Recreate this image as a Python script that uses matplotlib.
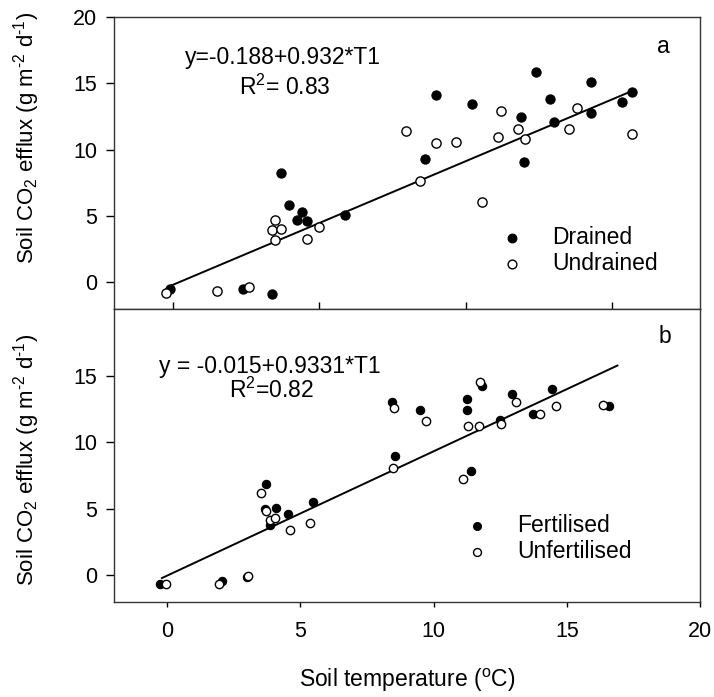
import matplotlib
matplotlib.use("Agg")
import matplotlib.pyplot as plt
import numpy as np

plt.rcParams['font.family'] = ['Liberation Sans', 'DejaVu Sans']
plt.rcParams['mathtext.fontset'] = 'custom'
plt.rcParams['mathtext.rm'] = 'Liberation Sans'
plt.rcParams['mathtext.it'] = 'Liberation Sans:italic'

# ---- Panel a: drained / undrained ----
drained_x = [-0.09, 2.40, 3.39, 3.71, 3.98, 4.42, 4.25, 4.57, 5.87,
             8.98, 10.22, 12.39, 14.27, 12.89, 11.88, 13.03, 14.27, 15.35, 15.67, 8.60, 11.98]
drained_y = [-0.53, -0.48, -0.85, 8.24, 5.81, 5.31, 4.71, 4.61, 5.11,
             14.14, 13.47, 15.87, 15.09, 13.79, 12.49, 12.09, 12.74, 13.59, 14.32, 9.31, 9.04]
undrained_x = [-0.21, 1.53, 2.60, 3.48, 3.39, 3.71, 3.48, 4.60, 4.98, 7.97,
               9.00, 9.68, 11.20, 11.09, 11.78, 12.03, 13.79, 13.52, 15.67, 8.43, 10.55]
undrained_y = [-0.83, -0.65, -0.38, 4.71, 3.93, 4.03, 3.20, 3.28, 4.16, 11.38,
               10.54, 10.61, 12.89, 10.99, 11.56, 10.81, 13.14, 11.56, 11.19, 7.63, 6.03]
fit_a = (-0.188, 0.932)
fit_a_range = [-0.1, 15.6]

# ---- Panel b: fertilised / unfertilised ----
fert_x = [-0.26, 2.04, 3.00, 3.69, 3.66, 4.09, 3.86, 4.55, 5.48, 8.45, 8.54,
          9.50, 11.26, 11.26, 11.81, 12.94, 12.48, 13.73, 14.46, 16.59, 11.40]
fert_y = [-0.68, -0.43, -0.10, 6.88, 4.95, 5.03, 3.80, 4.60, 5.48, 12.98, 8.95,
          12.45, 13.25, 12.38, 14.20, 13.65, 11.65, 12.15, 14.03, 12.73, 7.83]
unfert_x = [-0.03, 1.94, 3.03, 3.51, 3.69, 3.86, 4.06, 4.60, 5.34, 8.51, 8.49,
            9.71, 11.75, 11.30, 11.69, 13.10, 12.53, 14.00, 14.61, 16.35, 11.09]
unfert_y = [-0.65, -0.63, -0.03, 6.15, 4.83, 4.15, 4.33, 3.38, 3.93, 12.58, 8.03,
            11.58, 14.53, 11.18, 11.18, 12.98, 11.33, 12.13, 12.73, 12.78, 7.25]
fit_b = (-0.015, 0.9331)
fit_b_range = [-0.2, 16.9]

yticks_a = [0, 5, 10, 15, 20]
yticks_b = [0, 5, 10, 15]
xticks_a = [0, 5, 10, 15]
xticks_b = [0, 5, 10, 15, 20]

W, H = 714, 697
fig = plt.figure(figsize=(W / 100, H / 100), dpi=100)
left, right = 114 / W, 700 / W
ax_a = fig.add_axes([left, 1 - 309 / H, right - left, (309 - 17) / H])
ax_b = fig.add_axes([left, 1 - 602 / H, right - left, (602 - 309) / H])

fs_tick = 15.5
fs_txt = 16.5
for ax in (ax_a, ax_b):
    for sp in ax.spines.values():
        sp.set_linewidth(1.0)
        sp.set_color('#333333')

# Panel a
ax_a.scatter(drained_x, drained_y, s=44, c='black', edgecolors='black', linewidths=0.8,
             label='Drained', zorder=3)
ax_a.scatter(undrained_x, undrained_y, s=44, facecolors='white', edgecolors='black',
             linewidths=1.0, label='Undrained', zorder=3)
xa = np.array(fit_a_range)
ax_a.plot(xa, fit_a[0] + fit_a[1] * xa, color='black', lw=1.4, zorder=2)
ax_a.set_xlim(-2, 18)
ax_a.set_ylim(-2, 20)
ax_a.set_yticks(yticks_a)
ax_a.set_xticks(xticks_a)
ax_a.tick_params(axis='x', direction='in', length=5, labelbottom=False, width=1)
ax_a.tick_params(axis='y', direction='out', length=6, labelsize=fs_tick, width=1, pad=6)
ax_a.text(0.289, 0.839, 'y=-0.188+0.932*T1', transform=ax_a.transAxes, ha='center',
          va='baseline', fontsize=fs_txt)
ax_a.text(0.292, 0.733, r'R$\mathregular{^2}$= 0.83', transform=ax_a.transAxes,
          ha='center', va='baseline', fontsize=fs_txt)
ax_a.text(0.937, 0.878, 'a', transform=ax_a.transAxes, ha='center', va='baseline',
          fontsize=fs_txt)
ax_a.legend(loc='upper left', bbox_to_anchor=(0.640, 0.285), frameon=False,
            fontsize=fs_txt, borderpad=0, borderaxespad=0, handletextpad=0.76,
            labelspacing=0.13, markerscale=0.95)

# Panel b
ax_b.scatter(fert_x, fert_y, s=36, c='black', edgecolors='black', linewidths=0.8,
             label='Fertilised', zorder=3)
ax_b.scatter(unfert_x, unfert_y, s=36, facecolors='white', edgecolors='black',
             linewidths=1.0, label='Unfertilised', zorder=4)
xb = np.array(fit_b_range)
ax_b.plot(xb, fit_b[0] + fit_b[1] * xb, color='black', lw=1.4, zorder=2)
ax_b.set_xlim(-2, 20)
ax_b.set_ylim(-2, 20)
ax_b.set_yticks(yticks_b)
ax_b.set_xticks(xticks_b)
ax_b.tick_params(axis='y', direction='out', length=6, labelsize=fs_tick, width=1, pad=6)
ax_b.tick_params(axis='x', direction='out', length=3.5, labelsize=fs_tick, width=1, pad=10)
ax_b.text(0.266, 0.781, 'y = -0.015+0.9331*T1', transform=ax_b.transAxes, ha='center',
          va='baseline', fontsize=fs_txt)
ax_b.text(0.269, 0.695, r'R$\mathregular{^2}$=0.82', transform=ax_b.transAxes,
          ha='center', va='baseline', fontsize=fs_txt)
ax_b.text(0.940, 0.883, 'b', transform=ax_b.transAxes, ha='center', va='baseline',
          fontsize=fs_txt)
ax_b.legend(loc='upper left', bbox_to_anchor=(0.581, 0.300), frameon=False,
            fontsize=fs_txt, borderpad=0, borderaxespad=0, handletextpad=0.73,
            labelspacing=0.13, markerscale=0.95)

ylab = r'Soil CO$\mathregular{_2}$ efflux (g m$\mathregular{^{‐2}}$ d$\mathregular{^{‐1}}$)'
fig.text(27 / W, 1 - 138 / H, ylab, rotation=90, ha='center', va='center', fontsize=16)
fig.text(27 / W, 1 - 460 / H, ylab, rotation=90, ha='center', va='center', fontsize=16)
fig.text(407 / W, 1 - 680 / H, r'Soil temperature ($\mathregular{^o}$C)', ha='center',
         va='center', fontsize=fs_txt)

fig.savefig('out.png', dpi=100)
